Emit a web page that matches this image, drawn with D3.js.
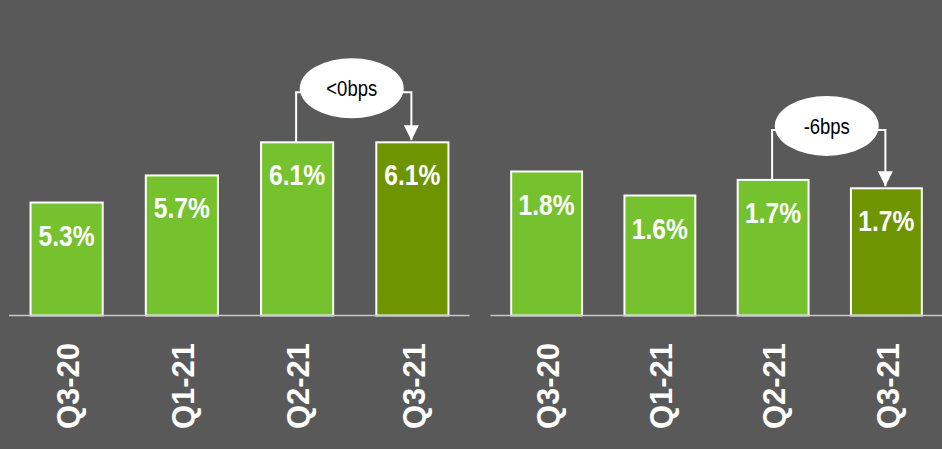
<!DOCTYPE html>
<html>
<head>
<meta charset="utf-8">
<script src="https://cdn.jsdelivr.net/npm/d3@7"></script>
<style>
  body { margin: 0; background: #595959; }
  svg { display: block; }
  .val { font-family: "Liberation Sans", Arial, sans-serif; font-weight: bold; font-size: 30px; fill: #fff; }
  .cat { font-family: "Liberation Sans", Arial, sans-serif; font-weight: bold; font-size: 31px; fill: #fff; }
  .note { font-family: "Liberation Sans", Arial, sans-serif; font-size: 22px; fill: #000; }
</style>
</head>
<body>
<svg width="942" height="449"></svg>
<script>
// data
const quarters = ["Q3-20", "Q1-21", "Q2-21", "Q3-21"];
const leftValues = [5.3, 5.66, 6.1, 6.1];
const leftLabels = ["5.3%", "5.7%", "6.1%", "6.1%"];
const rightValues = [1.80, 1.60, 1.73, 1.66];
const rightLabels = ["1.8%", "1.6%", "1.7%", "1.7%"];
const leftNote = "<0bps";
const rightNote = "-6bps";

const lightGreen = "#76c22e";
const darkGreen = "#6e9500";
const baseY = 315.5;
const narrow = 0.84; // squeeze text horizontally, no narrow font installed

const svg = d3.select("svg");

svg.append("defs").append("marker")
  .attr("id", "arrow")
  .attr("viewBox", "0 0 10 10")
  .attr("refX", 10).attr("refY", 5)
  .attr("markerWidth", 15).attr("markerHeight", 15)
  .attr("markerUnits", "userSpaceOnUse")
  .attr("orient", "auto")
  .append("path")
  .attr("d", "M0,0 L10,5 L0,10 Z")
  .attr("fill", "#fff");

function drawPanel(values, labels, note, xRange, yMin, pxPerUnit, lineRange) {
  const x = d3.scaleBand()
    .domain(quarters)
    .range(xRange)
    .paddingInner(0.374)
    .paddingOuter(0.187);

  const yMax = yMin + baseY / pxPerUnit;
  const y = d3.scaleLinear()
    .domain([yMin, yMax])
    .range([baseY, 0]);

  const g = svg.append("g");

  g.selectAll("rect")
    .data(values)
    .enter()
    .append("rect")
    .attr("x", (d, i) => x(quarters[i]))
    .attr("y", d => y(d))
    .attr("width", x.bandwidth())
    .attr("height", d => baseY - y(d))
    .attr("fill", (d, i) => i === 3 ? darkGreen : lightGreen)
    .attr("stroke", "#fff")
    .attr("stroke-width", 2);

  g.append("line")
    .attr("x1", lineRange[0]).attr("x2", lineRange[1])
    .attr("y1", baseY).attr("y2", baseY)
    .attr("stroke", "#c8c8c8")
    .attr("stroke-width", 1.5);

  g.selectAll(".val")
    .data(values)
    .enter()
    .append("text")
    .attr("class", "val")
    .attr("transform", (d, i) => `translate(${x(quarters[i]) + x.bandwidth() / 2},${y(d) + 43}) scale(0.82,1)`)
    .attr("text-anchor", "middle")
    .text((d, i) => labels[i]);

  g.selectAll(".cat")
    .data(quarters)
    .enter()
    .append("text")
    .attr("class", "cat")
    .attr("transform", d => `translate(${x(d) + x.bandwidth() / 2 + 1},386) rotate(-90)`)
    .attr("text-anchor", "middle")
    .attr("dy", "0.36em")
    .text(d => d);

  // change annotation between the last two bars
  const xa = x(quarters[2]) + x.bandwidth() / 2 - 1;
  const xb = x(quarters[3]) + x.bandwidth() / 2 - 1;
  const topA = y(values[2]);
  const topB = y(values[3]);
  const ly = Math.min(topA, topB) - 50;

  g.append("path")
    .attr("d", `M${xa},${topA} V${ly} H${xb} V${topB - 2}`)
    .attr("fill", "none")
    .attr("stroke", "#fff")
    .attr("stroke-width", 2)
    .attr("marker-end", "url(#arrow)");

  const cx = (xa + xb) / 2 - 2;
  g.append("ellipse")
    .attr("cx", cx)
    .attr("cy", ly - 4)
    .attr("rx", 52)
    .attr("ry", 30)
    .attr("fill", "#fff");

  g.append("text")
    .attr("class", "note")
    .attr("transform", `translate(${cx},${ly - 4}) scale(${narrow},1)`)
    .attr("dy", "0.35em")
    .attr("text-anchor", "middle")
    .text(note);
}

drawPanel(leftValues, leftLabels, leftNote, [9, 470], 3.8, 75.3, [9, 469.5]);
drawPanel(rightValues, rightLabels, rightNote, [490, 943], 0.6, 120, [490.5, 942]);
</script>
</body>
</html>
